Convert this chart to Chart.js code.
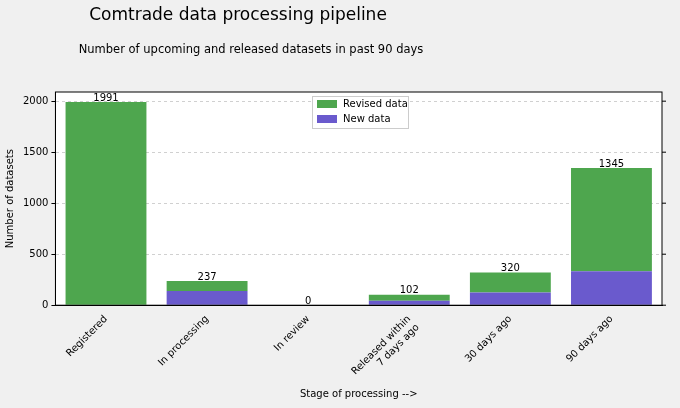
<!DOCTYPE html>
<html>
<head>
<meta charset="utf-8">
<script src="https://cdn.jsdelivr.net/npm/chart.js@4"></script>
<style>
  body { margin: 0; background: #f0f0f0; }
  #wrap { width: 680px; height: 408px; }
</style>
</head>
<body>
<div id="wrap"><canvas id="pipelineChart"></canvas></div>
<script>
const stages = ['Registered', 'In processing', 'In review', ['Released within', '7 days ago'], '30 days ago', '90 days ago']
const newData = [0, 140, 0, 45, 125, 332]
const revisedData = [1991, 97, 0, 57, 195, 1013]
const totals = [1991, 237, 0, 102, 320, 1345]
const yTicks = [0, 500, 1000, 1500, 2000]

const font = "'DejaVu Sans', sans-serif"

const decorations = {
    id: 'decorations',
    beforeDraw(chart) {
        const ctx = chart.ctx
        const a = chart.chartArea
        ctx.save()
        ctx.fillStyle = '#fff'
        ctx.fillRect(a.left, a.top, a.right - a.left, a.bottom - a.top)
        ctx.restore()
    },
    afterDraw(chart) {
        const ctx = chart.ctx
        const area = chart.chartArea
        const x = chart.scales.x
        const y = chart.scales.y
        ctx.save()
        ctx.strokeStyle = '#000'
        ctx.lineWidth = 1
        ctx.setLineDash([])
        ctx.strokeRect(area.left, area.top, area.right - area.left, area.bottom - area.top)
        yTicks.forEach(v => {
            const py = y.getPixelForValue(v)
            ctx.beginPath()
            ctx.moveTo(area.right, py)
            ctx.lineTo(area.right + 4, py)
            ctx.stroke()
        })
        ctx.fillStyle = '#000'
        ctx.font = '10px ' + font
        ctx.textAlign = 'center'
        ctx.textBaseline = 'bottom'
        totals.forEach((t, i) => {
            ctx.fillText(String(t), x.getPixelForValue(i), y.getPixelForValue(t) + 1)
        })
        ctx.font = '17px ' + font
        ctx.textBaseline = 'middle'
        ctx.fillText('Comtrade data processing pipeline', 238, 16)
        ctx.font = '11.5px ' + font
        ctx.fillText('Number of upcoming and released datasets in past 90 days', 251, 50)
        // legend
        ctx.fillStyle = '#fff'
        ctx.strokeStyle = '#ccc'
        ctx.fillRect(312, 96, 96, 32)
        ctx.strokeRect(312.5, 96.5, 96, 32)
        ctx.fillStyle = '#4ea64e'
        ctx.fillRect(317, 100, 20, 8)
        ctx.fillStyle = '#6a5acd'
        ctx.fillRect(317, 115, 20, 8)
        ctx.fillStyle = '#000'
        ctx.font = '10px ' + font
        ctx.textAlign = 'left'
        ctx.fillText('Revised data', 343, 104)
        ctx.fillText('New data', 343, 119)
        ctx.restore()
    }
}

new Chart(document.getElementById('pipelineChart'), {
    type: 'bar',
    data: {
        labels: stages,
        datasets: [
            { label: 'New data', data: newData, backgroundColor: '#6a5acd', stack: 's' },
            { label: 'Revised data', data: revisedData, backgroundColor: '#4ea64e', stack: 's' }
        ]
    },
    options: {
        responsive: true,
        maintainAspectRatio: false,
        animation: false,
        layout: { padding: { top: 92, right: 18, left: 0, bottom: 8 } },
        barPercentage: 0.8,
        categoryPercentage: 1,
        plugins: {
            legend: { display: false },
            tooltip: { enabled: false }
        },
        scales: {
            x: {
                stacked: true,
                grid: { display: false },
                border: { color: '#000' },
                ticks: { color: '#000', font: { family: font, size: 10 }, maxRotation: 45, minRotation: 45, padding: 0 },
                title: { display: true, text: 'Stage of processing -->', color: '#000', font: { family: font, size: 10 }, padding: { top: 2, bottom: 0 } }
            },
            y: {
                stacked: true,
                min: 0,
                max: 2090,
                afterBuildTicks(axis) { axis.ticks = yTicks.map(v => ({ value: v })) },
                grid: { color: '#d0d0d0', tickColor: '#000', tickLength: 4 },
                border: { color: '#000', dash: [3, 3] },
                ticks: { color: '#000', font: { family: font, size: 10 }, callback: v => String(v) },
                title: { display: true, text: 'Number of datasets', color: '#000', font: { family: font, size: 10 } }
            }
        }
    },
    plugins: [decorations]
})
</script>
</body>
</html>
